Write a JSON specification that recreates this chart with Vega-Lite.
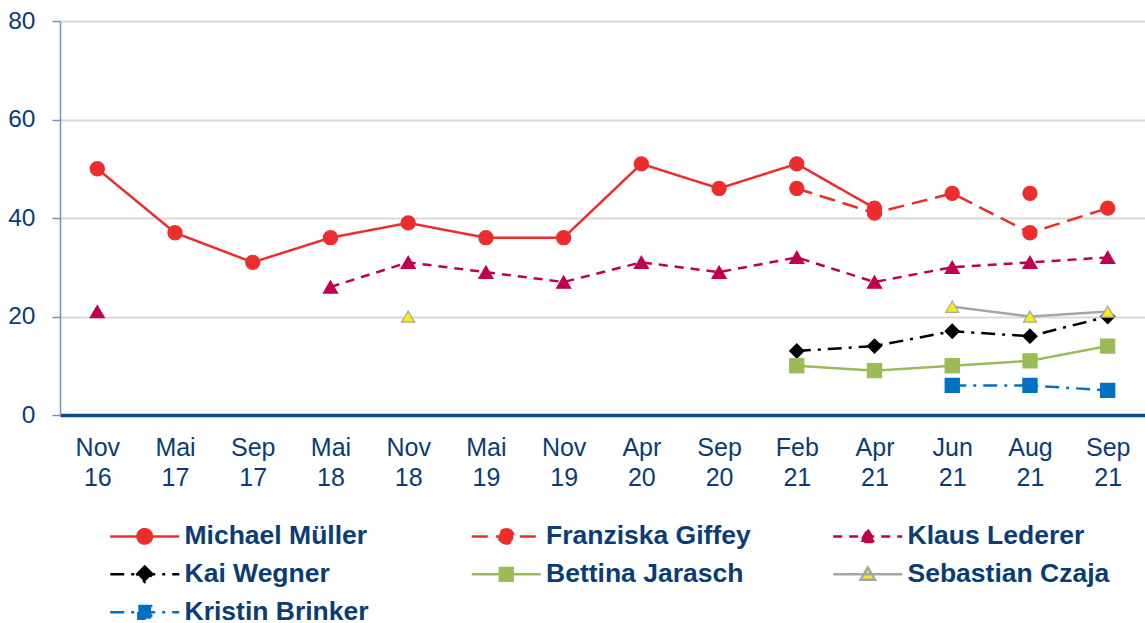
{
  "$schema": "https://vega.github.io/schema/vega-lite/v6.json",
  "width": 1085,
  "height": 394,
  "autosize": {"type": "none"},
  "padding": {"left": 60, "top": 21, "right": 0, "bottom": 208},
  "background": "white",
  "config": {"view": {"stroke": null}},
  "data": {"values": [
    {"d": "Nov 16", "name": "Michael Müller", "v": 50},
    {"d": "Mai 17", "name": "Michael Müller", "v": 37},
    {"d": "Sep 17", "name": "Michael Müller", "v": 31},
    {"d": "Mai 18", "name": "Michael Müller", "v": 36},
    {"d": "Nov 18", "name": "Michael Müller", "v": 39},
    {"d": "Mai 19", "name": "Michael Müller", "v": 36},
    {"d": "Nov 19", "name": "Michael Müller", "v": 36},
    {"d": "Apr 20", "name": "Michael Müller", "v": 51},
    {"d": "Sep 20", "name": "Michael Müller", "v": 46},
    {"d": "Feb 21", "name": "Michael Müller", "v": 51},
    {"d": "Apr 21", "name": "Michael Müller", "v": 42},
    {"d": "Jun 21", "name": "Michael Müller", "v": null},
    {"d": "Aug 21", "name": "Michael Müller", "v": 45},
    {"d": "Feb 21", "name": "Franziska Giffey", "v": 46},
    {"d": "Apr 21", "name": "Franziska Giffey", "v": 41},
    {"d": "Jun 21", "name": "Franziska Giffey", "v": 45},
    {"d": "Aug 21", "name": "Franziska Giffey", "v": 37},
    {"d": "Sep 21", "name": "Franziska Giffey", "v": 42},
    {"d": "Nov 16", "name": "Klaus Lederer", "v": 21},
    {"d": "Mai 17", "name": "Klaus Lederer", "v": null},
    {"d": "Mai 18", "name": "Klaus Lederer", "v": 26},
    {"d": "Nov 18", "name": "Klaus Lederer", "v": 31},
    {"d": "Mai 19", "name": "Klaus Lederer", "v": 29},
    {"d": "Nov 19", "name": "Klaus Lederer", "v": 27},
    {"d": "Apr 20", "name": "Klaus Lederer", "v": 31},
    {"d": "Sep 20", "name": "Klaus Lederer", "v": 29},
    {"d": "Feb 21", "name": "Klaus Lederer", "v": 32},
    {"d": "Apr 21", "name": "Klaus Lederer", "v": 27},
    {"d": "Jun 21", "name": "Klaus Lederer", "v": 30},
    {"d": "Aug 21", "name": "Klaus Lederer", "v": 31},
    {"d": "Sep 21", "name": "Klaus Lederer", "v": 32},
    {"d": "Feb 21", "name": "Kai Wegner", "v": 13},
    {"d": "Apr 21", "name": "Kai Wegner", "v": 14},
    {"d": "Jun 21", "name": "Kai Wegner", "v": 17},
    {"d": "Aug 21", "name": "Kai Wegner", "v": 16},
    {"d": "Sep 21", "name": "Kai Wegner", "v": 20},
    {"d": "Feb 21", "name": "Bettina Jarasch", "v": 10},
    {"d": "Apr 21", "name": "Bettina Jarasch", "v": 9},
    {"d": "Jun 21", "name": "Bettina Jarasch", "v": 10},
    {"d": "Aug 21", "name": "Bettina Jarasch", "v": 11},
    {"d": "Sep 21", "name": "Bettina Jarasch", "v": 14},
    {"d": "Nov 18", "name": "Sebastian Czaja", "v": 20},
    {"d": "Mai 19", "name": "Sebastian Czaja", "v": null},
    {"d": "Jun 21", "name": "Sebastian Czaja", "v": 22},
    {"d": "Aug 21", "name": "Sebastian Czaja", "v": 20},
    {"d": "Sep 21", "name": "Sebastian Czaja", "v": 21},
    {"d": "Jun 21", "name": "Kristin Brinker", "v": 6},
    {"d": "Aug 21", "name": "Kristin Brinker", "v": 6},
    {"d": "Sep 21", "name": "Kristin Brinker", "v": 5}
  ]},
  "encoding": {
    "x": {
      "field": "d", "type": "ordinal",
      "scale": {"type": "point", "padding": 0.48, "domain": ["Nov 16", "Mai 17", "Sep 17", "Mai 18", "Nov 18", "Mai 19", "Nov 19", "Apr 20", "Sep 20", "Feb 21", "Apr 21", "Jun 21", "Aug 21", "Sep 21"]},
      "axis": {
        "title": null, "labelExpr": "split(datum.label, ' ')", "labelAngle": 0,
        "ticks": false, "tickSize": 0, "grid": false,
        "domainColor": "#0C4A8A", "domainWidth": 3.5,
        "labelFont": "Liberation Sans", "labelFontSize": 25, "labelColor": "#0B3C74",
        "labelPadding": 20, "labelLineHeight": 30, "labelOverlap": false, "labelBound": false
      }
    },
    "y": {
      "field": "v", "type": "quantitative",
      "scale": {"domain": [0, 80], "nice": false, "zero": true},
      "axis": {
        "title": null, "values": [0, 20, 40, 60, 80], "grid": true,
        "gridColor": "#D9D9D9", "gridWidth": 2,
        "domainColor": "#7393B8", "domainWidth": 1.5,
        "tickColor": "#7393B8", "tickSize": 8, "tickWidth": 1.5,
        "labelFont": "Liberation Sans", "labelFontSize": 24.5, "labelColor": "#0B3C74",
        "labelPadding": 17, "labelOverlap": false
      }
    }
  },
  "layer": [
    {
      "mark": {"type": "line", "invalid": "break-paths-show-domains", "strokeWidth": 2.5},
      "encoding": {
        "order": {"value": null},
        "stroke": {
          "field": "name", "type": "nominal",
          "scale": {
            "domain": ["Michael Müller", "Franziska Giffey", "Klaus Lederer", "Kai Wegner", "Bettina Jarasch", "Sebastian Czaja", "Kristin Brinker"],
            "range": ["#ED2D2D", "#ED2D2D", "#C0004F", "#000000", "#9BBB59", "#A6A6A6", "#0070C0"]
          },
          "legend": {
            "orient": "none", "legendX": 71.5, "legendY": 502,
            "columns": 3, "direction": "horizontal", "gridAlign": "all",
            "columnPadding": 76.5, "rowPadding": 11, "title": null,
            "labelFont": "Liberation Sans", "labelFontSize": 26.5, "labelFontWeight": "bold",
            "labelColor": "#0B3C74", "labelLimit": 400, "labelOffset": 26.5,
            "symbolSize": 289, "symbolStrokeWidth": 2.5,
            "encode": {
              "symbols": {
                "update": {
                  "shape": {"signal": "['M-4.06,0L4.06,0M-0.85,0A0.85,0.85,0,1,0,0.85,0A0.85,0.85,0,1,0,-0.85,0Z','M-4.06,0L4.06,0M-0.85,0A0.85,0.85,0,1,0,0.85,0A0.85,0.85,0,1,0,-0.85,0Z','M-4.06,0L4.06,0M0,-0.8L0.85,0.65L-0.85,0.65Z','M-4.06,0L4.06,0M0,-0.9L0.9,0L0,0.9L-0.9,0Z','M-4.06,0L4.06,0M-0.75,-0.75L0.75,-0.75L0.75,0.75L-0.75,0.75Z','M-4.06,0L4.06,0M0,-0.8L0.85,0.65L-0.85,0.65Z','M-4.06,0L4.06,0M-0.75,-0.75L0.75,-0.75L0.75,0.75L-0.75,0.75Z'][indexof(['Michael Müller','Franziska Giffey','Klaus Lederer','Kai Wegner','Bettina Jarasch','Sebastian Czaja','Kristin Brinker'], datum.value)]"},
                  "fill": {"signal": "['#ED2D2D','#ED2D2D','#C0004F','#000000','#9BBB59','#F7EC1A','#0070C0'][indexof(['Michael Müller','Franziska Giffey','Klaus Lederer','Kai Wegner','Bettina Jarasch','Sebastian Czaja','Kristin Brinker'], datum.value)]"},
                  "strokeDash": {"signal": "[[1,0],[16,8],[9,7],[14,7,3,7],[1,0],[1,0],[14,7,3,7]][indexof(['Michael Müller','Franziska Giffey','Klaus Lederer','Kai Wegner','Bettina Jarasch','Sebastian Czaja','Kristin Brinker'], datum.value)]"},
                  "strokeWidth": {"value": 2.5},
                  "size": {"value": 289},
                  "opacity": {"value": 1}
                }
              }
            }
          }
        },
        "strokeDash": {
          "condition": [
            {"test": "datum.name === 'Franziska Giffey'", "value": [16, 8]},
            {"test": "datum.name === 'Klaus Lederer'", "value": [9, 7]},
            {"test": "datum.name === 'Kai Wegner' || datum.name === 'Kristin Brinker'", "value": [14, 7, 3, 7]}
          ],
          "value": [1, 0]
        }
      }
    },
    {
      "mark": {"type": "point", "filled": true, "opacity": 1, "strokeWidth": 1.2},
      "encoding": {
        "fill": {
          "condition": [
            {"test": "datum.name === 'Michael Müller' || datum.name === 'Franziska Giffey'", "value": "#ED2D2D"},
            {"test": "datum.name === 'Klaus Lederer'", "value": "#C0004F"},
            {"test": "datum.name === 'Kai Wegner'", "value": "#000000"},
            {"test": "datum.name === 'Bettina Jarasch'", "value": "#9BBB59"},
            {"test": "datum.name === 'Sebastian Czaja'", "value": "#F7EC1A"}
          ],
          "value": "#0070C0"
        },
        "stroke": {"field": "name", "type": "nominal", "legend": null},
        "shape": {
          "condition": [
            {"test": "datum.name === 'Michael Müller' || datum.name === 'Franziska Giffey'", "value": "circle"},
            {"test": "datum.name === 'Klaus Lederer' || datum.name === 'Sebastian Czaja'", "value": "triangle-up"},
            {"test": "datum.name === 'Kai Wegner'", "value": "diamond"}
          ],
          "value": "square"
        },
        "size": {"condition": {"test": "datum.name === 'Sebastian Czaja'", "value": 170}, "value": 200}
      }
    }
  ]
}
